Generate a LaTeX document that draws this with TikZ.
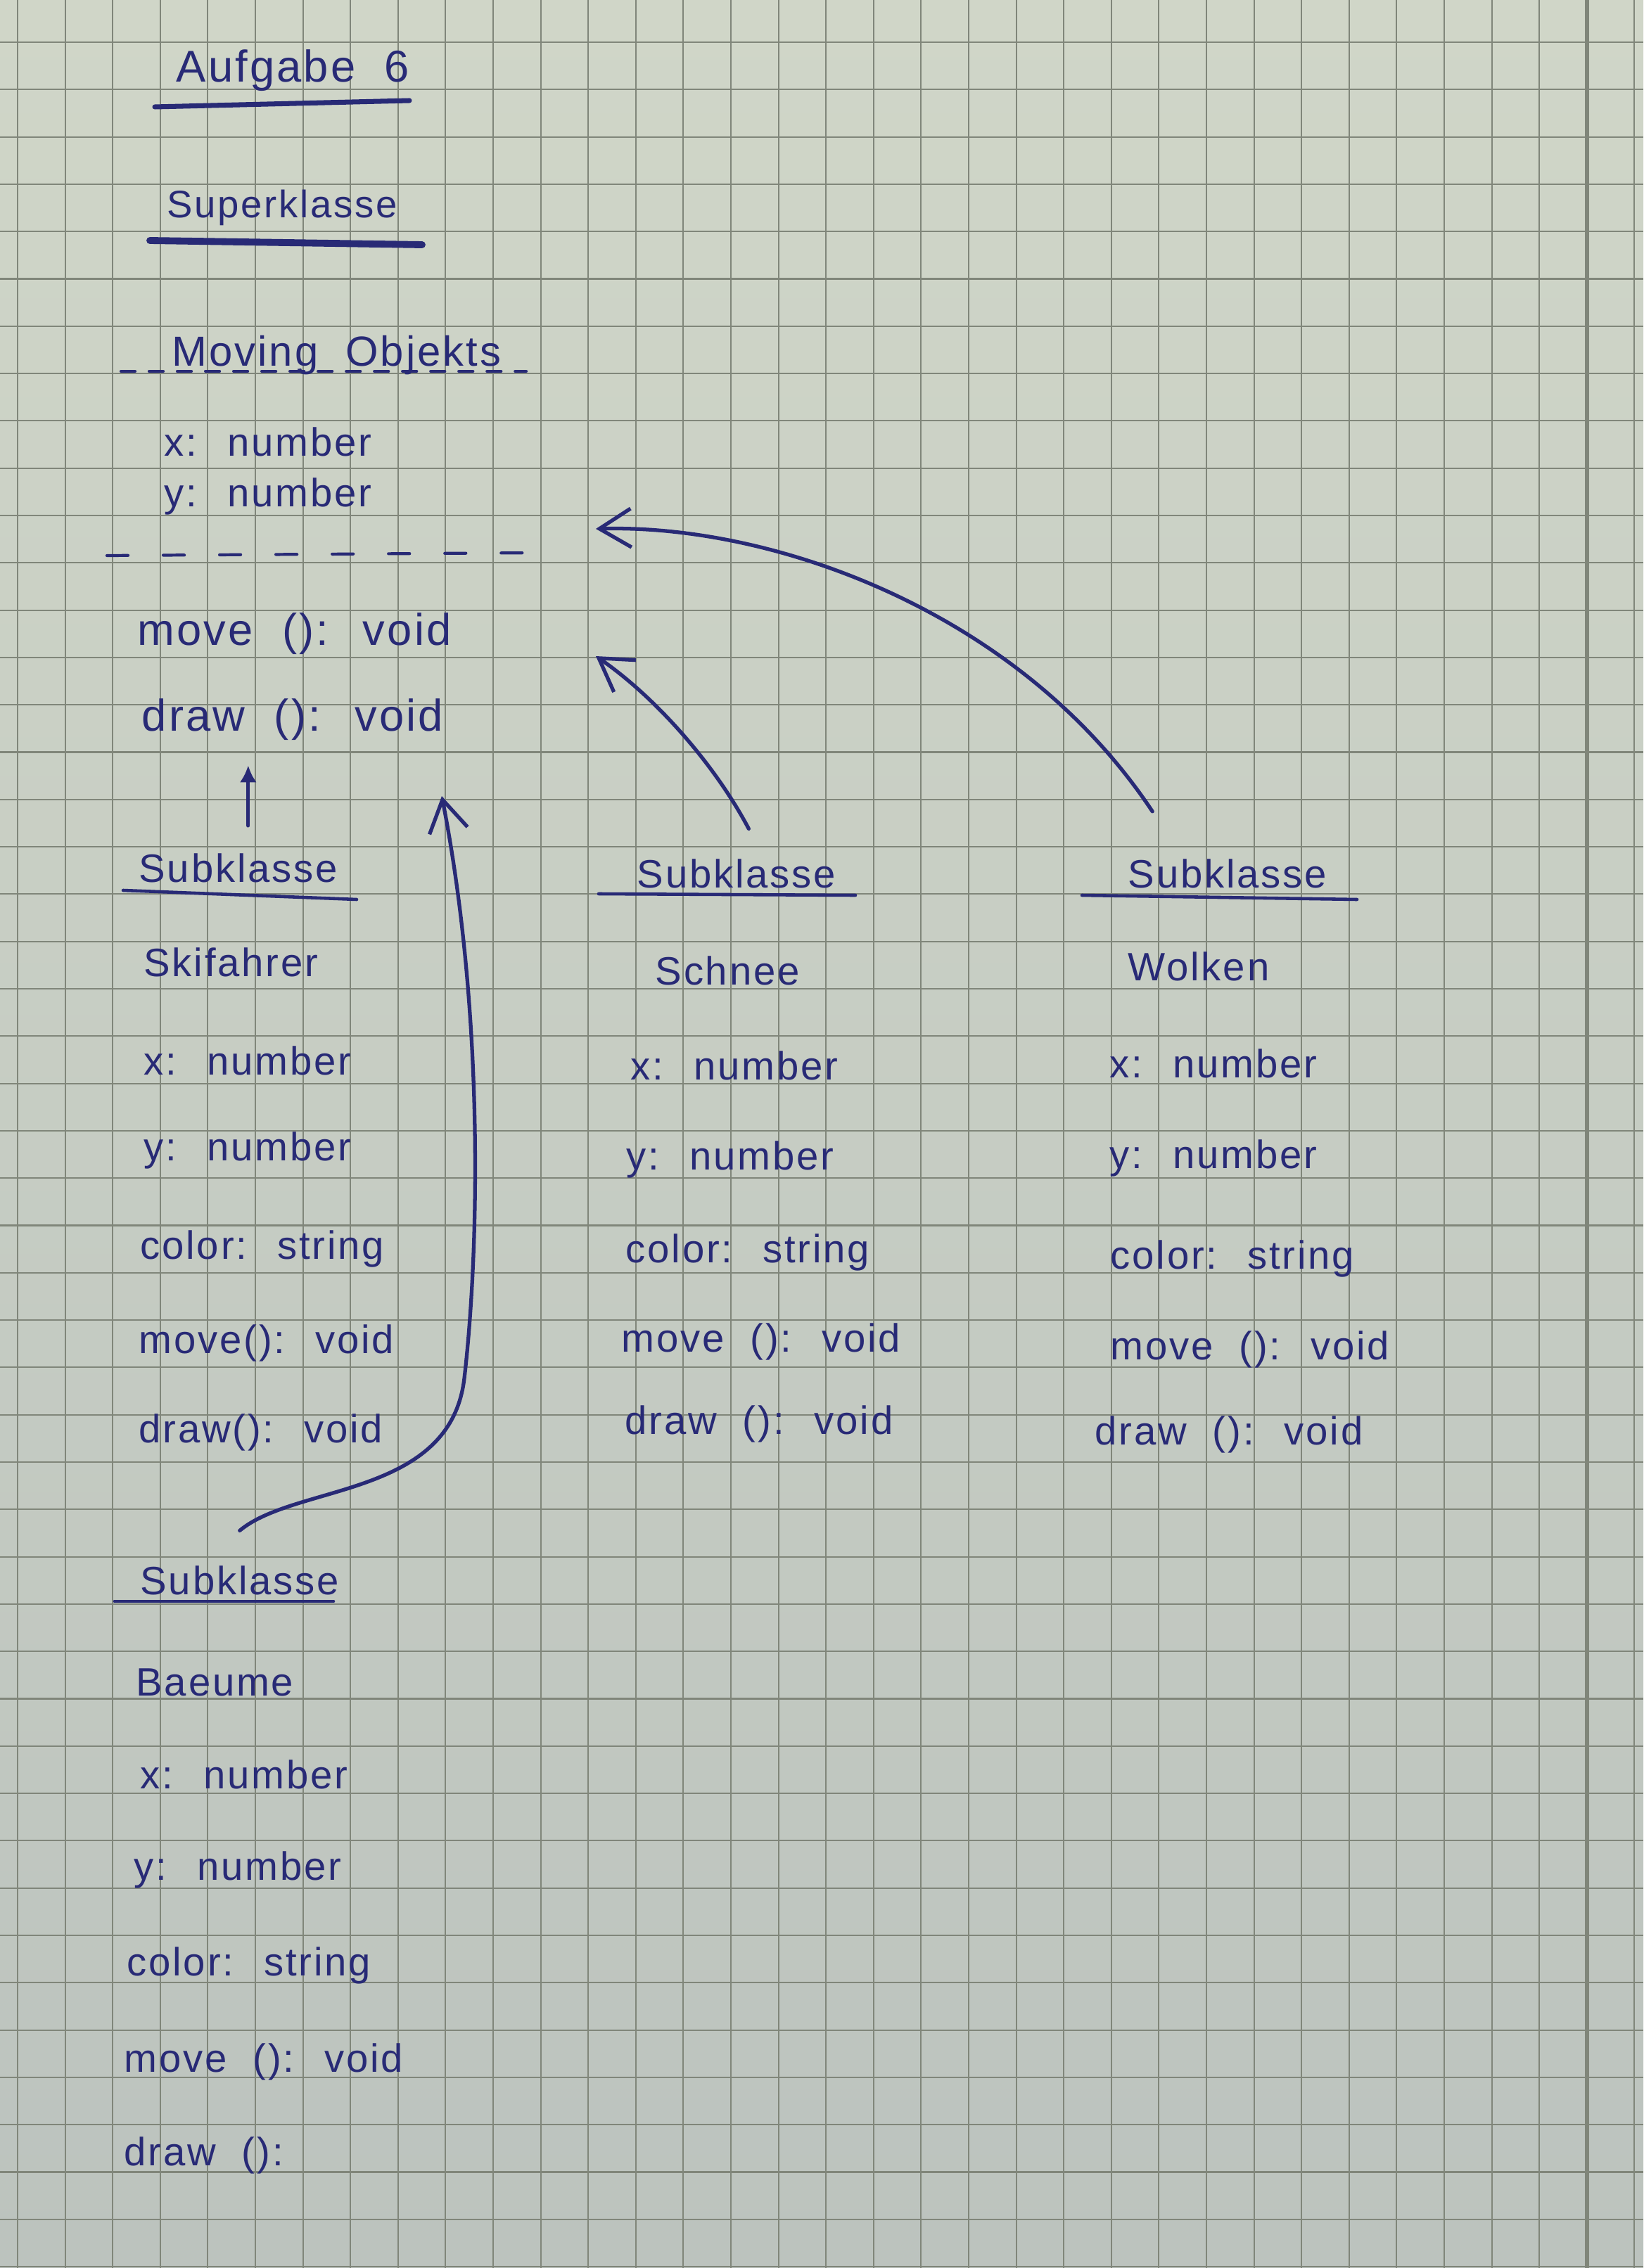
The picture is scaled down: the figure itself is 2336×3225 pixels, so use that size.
\documentclass[tikz,border=0pt]{standalone}
\usepackage{fontspec}
\newfontfamily\hand[LetterSpace=5,WordSpace=2]{Liberation Sans}
\usetikzlibrary{arrows.meta}

\definecolor{tinte}{RGB}{40,42,118}
\definecolor{papieroben}{RGB}{208,214,200}
\definecolor{papierunten}{RGB}{188,195,190}
\definecolor{kaestchen}{RGB}{128,134,122}

\tikzset{
  eintrag/.style={anchor=west,inner sep=0pt,text=tinte,font=\hand\fontsize{16}{19}\selectfont},
  gross/.style={eintrag,font=\hand\fontsize{18}{22}\selectfont},
  mittel/.style={eintrag,font=\hand\fontsize{15.5}{19}\selectfont},
  methode/.style={eintrag,font=\hand\fontsize{18}{22}\selectfont},
  strich/.style={draw=tinte,line width=1.3pt,line cap=round},
  gitter/.style={draw=kaestchen,line width=0.6pt},
  pfeil/.style={draw=tinte,line width=1.5pt,line cap=round,
    -{Straight Barb[length=4.5mm,width=5.5mm,line width=1.5pt]}},
  pfeilklein/.style={draw=tinte,line width=1.5pt,line cap=round,
    -{Latex[length=2.4mm,width=2.4mm]}},
}

\begin{document}
\begin{tikzpicture}[x=0.01cm,y=-0.01cm]
\useasboundingbox (0,0) rectangle (2336,3225);
% kariertes Papier
\shade[top color=papieroben,bottom color=papierunten] (0,0) rectangle (2336,3225);
\foreach \k in {0,...,34} \draw[gitter] ({25+67.6*\k},0) -- ({25+67.6*\k},3225);
\foreach \k in {0,...,47} \draw[gitter] (0,{60+67.3*\k}) -- (2336,{60+67.3*\k});
\draw[gitter,line width=1.5pt] (2256,0) -- (2256,3225);

% Ueberschriften
\node[gross] (titel) at (250,100) {Aufgabe 6};
\draw[strich,line width=2pt] (220,152) -- (582,143);
\node[mittel] (oberkl) at (237,295) {Superklasse};
\draw[strich,line width=2.8pt] (213,342) -- (600,348);

% Superklasse
\node[gross,font=\hand\fontsize{17}{21}\selectfont] (mo) at (244,505) {Moving Objekts};
\draw[strich,line width=1.2pt,dash pattern=on 0.2cm off 0.2cm] (172,528) -- (748,528);
\node[eintrag] (mox) at (233,628) {x: number};
\node[eintrag] (moy) at (233,706) {y: number};
\draw[strich,line width=1.2pt,dash pattern=on 0.3cm off 0.5cm] (152,790) -- (764,786);
\node[methode] (momove) at (195,901) {move (): void};
\node[methode] (modraw) at (201,1023) {draw (): void};

% Subklasse Skifahrer
\node[eintrag] (k1) at (197,1234) {Subklasse};
\draw[strich] (175,1266) -- (507,1279);
\node[eintrag] (ski) at (204,1368) {Skifahrer};
\node[eintrag] (skix) at (204,1508) {x: number};
\node[eintrag] (skiy) at (204,1636) {y: number};
\node[eintrag] (skicol) at (199,1776) {color: string};
\node[eintrag] (skimove) at (197,1910) {move(): void};
\node[eintrag] (skidraw) at (197,2037) {draw(): void};

% Subklasse Schnee
\node[eintrag] (k2) at (905,1242) {Subklasse};
\draw[strich] (851,1271) -- (1216,1273);
\node[eintrag] (schnee) at (931,1380) {Schnee};
\node[eintrag] (schx) at (896,1515) {x: number};
\node[eintrag] (schy) at (890,1649) {y: number};
\node[eintrag] (schcol) at (889,1781) {color: string};
\node[eintrag] (schmove) at (883,1908) {move (): void};
\node[eintrag] (schdraw) at (888,2025) {draw (): void};

% Subklasse Wolken
\node[eintrag] (k3) at (1603,1242) {Subklasse};
\draw[strich] (1538,1273) -- (1929,1279);
\node[eintrag] (wolken) at (1603,1374) {Wolken};
\node[eintrag] (wolx) at (1577,1512) {x: number};
\node[eintrag] (woly) at (1577,1647) {y: number};
\node[eintrag] (wolcol) at (1578,1790) {color: string};
\node[eintrag] (wolmove) at (1578,1919) {move (): void};
\node[eintrag] (woldraw) at (1556,2040) {draw (): void};

% Subklasse Baeume
\node[eintrag] (k4) at (199,2247) {Subklasse};
\draw[strich] (163,2277) -- (474,2277);
\node[eintrag] (baeume) at (193,2392) {Baeume};
\node[eintrag] (baex) at (199,2523) {x: number};
\node[eintrag] (baey) at (190,2659) {y: number};
\node[eintrag] (baecol) at (180,2795) {color: string};
\node[eintrag] (baemove) at (176,2932) {move (): void};
\node[eintrag] (baedraw) at (176,3065) {draw ():};

% Vererbungspfeile
\coordinate (ziel1) at (628,1132);
\coordinate (ziel2) at (847,933);
\coordinate (ziel3) at (847,752);
\draw[pfeilklein] ([xshift=4pt,yshift=11pt]k1.north) -- ([xshift=4pt,yshift=-10pt]k1.north |- modraw.south);
\draw[pfeil] ([yshift=14pt]k4.north) .. controls (420,2110) and (640,2130) .. (660,1960)
  .. controls (680,1790) and (690,1450) .. (ziel1);
\draw[pfeil] ([xshift=5pt,yshift=12pt]k2.north) .. controls (1015,1085) and (930,990) .. (ziel2);
\draw[pfeil] ([xshift=10pt,yshift=19pt]k3.north west) .. controls (1450,870) and (1100,745) .. (ziel3);
\end{tikzpicture}
\end{document}
